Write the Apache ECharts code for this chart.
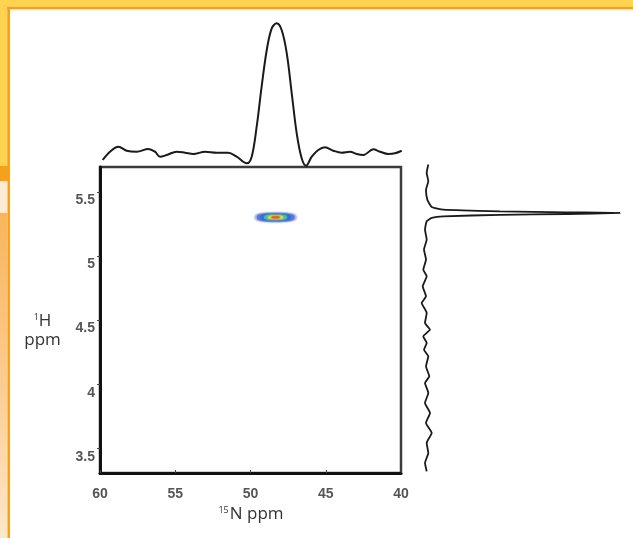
<!DOCTYPE html>
<html>
<head>
<meta charset="utf-8">
<script src="https://cdn.jsdelivr.net/npm/echarts@6/dist/echarts.min.js"></script>
<style>
html,body{margin:0;padding:0;background:#fff;}
#chart{width:633px;height:538px;}
</style>
</head>
<body>
<div id="chart"></div>
<script>
// ---- Data ----
// 15N projection (top trace): ppm and relative intensity
const nPpm = [59.82, 59.34, 58.78, 58.23, 57.56, 56.79, 56.35, 56.01, 55.57, 54.90, 54.35, 53.80, 53.02, 52.25, 51.48, 50.92, 50.25, 49.92, 49.59, 49.26, 48.92, 48.59, 48.26, 47.93, 47.59, 47.26, 46.93, 46.60, 46.31, 45.93, 45.50, 45.05, 44.50, 43.94, 43.39, 42.94, 42.50, 41.84, 41.40, 40.84, 40.40, 39.95];
const nProj = [10, 18.3, 23.3, 19.3, 18.3, 21, 18.3, 13.3, 15, 18.3, 17.3, 16, 18.3, 17.3, 17.3, 13.3, 6.7, 13.3, 43.3, 83.3, 120, 141.7, 146.7, 140, 116.7, 76.7, 36.7, 11.7, 4.3, 13.3, 20, 22.7, 19.3, 17.3, 18.3, 16, 15, 20.7, 18.3, 16, 16.7, 19.3];
// 1H projection (right trace): ppm and relative intensity
const hPpm = [5.719, 5.654, 5.588, 5.523, 5.445, 5.388, 5.367, 5.354, 5.346, 5.341, 5.333, 5.326, 5.315, 5.302, 5.276, 5.211, 5.133, 5.055, 4.977, 4.898, 4.846, 4.768, 4.690, 4.638, 4.560, 4.482, 4.430, 4.377, 4.326, 4.273, 4.221, 4.143, 4.065, 4.013, 3.935, 3.857, 3.779, 3.701, 3.623, 3.545, 3.466, 3.388, 3.323];
const hProj = [13.3, 11.7, 13.3, 11, 12.3, 16.7, 28.3, 85, 151.7, 205, 151.7, 85, 28.3, 16.7, 11.7, 10, 11.7, 9, 11, 8.3, 11.7, 7.7, 11, 6.7, 11.7, 10, 15, 8.3, 11.7, 9, 13.3, 11, 14.3, 10, 13.3, 10, 15, 11, 16.7, 11.7, 13.3, 10, 11.7];
// 2D cross peak (15N ppm, 1H ppm) and contour levels with half-widths in ppm
const peakN = 48.33;
const peakH = 5.307;
const contourLevels = [0.05, 0.15, 0.3, 0.5, 0.7, 0.9];
const contourHalfN = [1.4, 1.25, 1.0, 0.75, 0.5, 0.28];
const contourHalfH = [0.038, 0.033, 0.027, 0.021, 0.015, 0.009];
// Axis ticks
const xTicks = [40, 45, 50, 55, 60];
const yTicks = [3.5, 4, 4.5, 5, 5.5];

const chart = echarts.init(document.getElementById('chart'), null, {renderer: 'canvas'});

const topData = nPpm.map((p, i) => [p, nProj[i]]);
const rightData = hPpm.map((p, i) => [hProj[i], p]);
const contourData = contourLevels.map((l, i) => [l, contourHalfN[i], contourHalfH[i]]);

const labelFont = {fontSize: 14, fontWeight: 'bold', color: '#555', fontFamily: 'Liberation Sans, Arial, sans-serif'};

const option = {
  backgroundColor: '#ffffff',
  animation: false,
  graphic: [
    {type: 'rect', z: -1, shape: {x: 0, y: 0, width: 633, height: 7}, style: {fill: '#FFD34F'}},
    {type: 'rect', z: -1, shape: {x: 0, y: 0, width: 7.5, height: 166}, style: {fill: '#FFD34F'}},
    {type: 'rect', z: -1, shape: {x: 7, y: 7, width: 626, height: 2.3}, style: {fill: '#F6A11D'}},
    {type: 'rect', z: -1, shape: {x: 7, y: 9.3, width: 626, height: 1}, style: {fill: '#FCD9A0'}},
    {type: 'rect', z: -1, shape: {x: 7.3, y: 7, width: 2.7, height: 531}, style: {fill: '#F6A11D'}},
    {type: 'rect', z: -1, shape: {x: 0, y: 166, width: 10, height: 15.5}, style: {fill: '#F6A11D'}},
    {type: 'rect', z: -1, shape: {x: 0, y: 181.5, width: 7.3, height: 31.5}, style: {fill: '#FDEBD3'}},
    {type: 'rect', z: -1, shape: {x: 0, y: 213, width: 7.3, height: 325}, style: {
      fill: new echarts.graphic.LinearGradient(0, 0, 0, 1, [
        {offset: 0, color: '#F8B55C'}, {offset: 0.5, color: '#FBCB8E'}, {offset: 1, color: '#FDE7CB'}
      ])
    }},
    {type: 'text', z: 10, style: {
      x: 42.5, y: 321, text: '{s|1}{b|H}', textAlign: 'center', textVerticalAlign: 'middle',
      rich: {
        s: {fontSize: 9, fill: '#333', fontFamily: 'Open Sans, sans-serif', verticalAlign: 'top', padding: [0, 0, 6, 0]},
        b: {fontSize: 17, fill: '#333', fontFamily: 'Open Sans, sans-serif'}
      }
    }},
    {type: 'text', z: 10, style: {
      x: 42.5, y: 340, text: 'ppm', textAlign: 'center', textVerticalAlign: 'middle',
      fontSize: 17, fill: '#333', fontFamily: 'Open Sans, sans-serif'
    }},
    {type: 'text', z: 10, style: {
      x: 251, y: 514, text: '{s|15}{b|N ppm}', textAlign: 'center', textVerticalAlign: 'middle',
      rich: {
        s: {fontSize: 9, fill: '#333', fontFamily: 'Open Sans, sans-serif', verticalAlign: 'top', padding: [0, 1, 6, 0]},
        b: {fontSize: 17, fill: '#333', fontFamily: 'Open Sans, sans-serif'}
      }
    }}
  ],
  visualMap: {
    show: false, type: 'continuous', seriesIndex: 2, dimension: 0, min: 0.05, max: 0.9,
    inRange: {color: ['#b8c4ee', '#2840c8', '#30a8e0', '#5ec872', '#e8e040', '#f05a20']}
  },
  grid: [
    {left: 100, top: 167, width: 301, height: 306, show: true, borderColor: '#3c3c3c', borderWidth: 2.5, backgroundColor: 'transparent'},
    {left: 100, top: 10, width: 301, height: 160},
    {left: 415, top: 167, width: 210, height: 306}
  ],
  xAxis: [
    {
      gridIndex: 0, type: 'value', min: 40, max: 60, interval: 5, inverse: true,
      axisLine: {show: true, lineStyle: {color: '#111', width: 3}},
      axisTick: {show: true, inside: true, length: 3, lineStyle: {color: '#444', width: 1}},
      axisLabel: Object.assign({margin: 14, customValues: xTicks}, labelFont),
      splitLine: {show: false}
    },
    {gridIndex: 1, type: 'value', min: 40, max: 60, inverse: true, show: false, splitLine: {show: false}},
    {gridIndex: 2, type: 'value', min: 0, max: 210, show: false, splitLine: {show: false}}
  ],
  yAxis: [
    {
      gridIndex: 0, type: 'value', min: 3.31, max: 5.70,
      axisLine: {show: true, lineStyle: {color: '#111', width: 3}},
      axisTick: {show: true, inside: false, length: 3, customValues: yTicks, lineStyle: {color: '#444', width: 1}},
      axisLabel: Object.assign({margin: 5, customValues: yTicks, verticalAlign: 'top', padding: [1, 0, 0, 0]}, labelFont),
      splitLine: {show: false}
    },
    {gridIndex: 1, type: 'value', min: 0, max: 160, show: false, splitLine: {show: false}},
    {gridIndex: 2, type: 'value', min: 3.31, max: 5.70, show: false, splitLine: {show: false}}
  ],
  series: [
    {
      type: 'line', xAxisIndex: 1, yAxisIndex: 1, data: topData, showSymbol: false, smooth: 0.35,
      lineStyle: {color: '#1a1a1a', width: 2}, clip: false, z: 3
    },
    {
      type: 'line', xAxisIndex: 2, yAxisIndex: 2, data: rightData, showSymbol: false, smooth: 0.15,
      lineStyle: {color: '#1a1a1a', width: 1.8}, clip: false, z: 3
    },
    {
      type: 'custom', xAxisIndex: 0, yAxisIndex: 0, data: contourData, z: 4,
      renderItem: function (params, api) {
        const c = api.coord([peakN, peakH]);
        const sz = api.size([api.value(1), api.value(2)]);
        const a = sz[0], b = sz[1];
        const pts = [];
        for (let k = 0; k < 48; k++) {
          const t = k / 48 * Math.PI * 2;
          const ct = Math.cos(t), st = Math.sin(t);
          pts.push([c[0] + a * Math.sign(ct) * Math.pow(Math.abs(ct), 0.8),
                    c[1] + b * Math.sign(st) * Math.pow(Math.abs(st), 0.6)]);
        }
        const col = api.visual('color');
        return {type: 'polygon', shape: {points: pts}, style: {fill: col, shadowBlur: 2, shadowColor: col}};
      }
    }
  ]
};
chart.setOption(option);
</script>
</body>
</html>
